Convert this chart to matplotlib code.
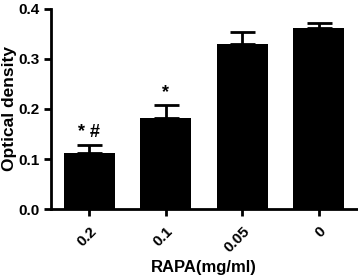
import matplotlib
matplotlib.use("Agg")
import matplotlib.pyplot as plt
import numpy as np

plt.rcParams['font.family'] = ['Liberation Sans', 'DejaVu Sans']
plt.rcParams['font.weight'] = 'bold'

labels = ['0.2', '0.1', '0.05', '0']
means = [0.112, 0.182, 0.330, 0.362]
errors = [0.016, 0.026, 0.024, 0.010]
marks = ['* #', '*', '', '']

fig = plt.figure(figsize=(3.58, 2.78), dpi=100)
ax = fig.add_axes([0.1425, 0.248, 0.855, 0.72])

x = np.arange(len(labels))
ax.bar(x, means, width=0.67, color='black', zorder=2)
ax.errorbar(x, means, yerr=[np.zeros(len(errors)), errors], fmt='none',
            ecolor='black', elinewidth=2, capsize=9, capthick=2, zorder=3)

for i in range(len(labels)):
    if marks[i]:
        ax.text(x[i], means[i] + errors[i] + 0.008, marks[i], ha='center',
                va='bottom', fontsize=13, fontweight='bold')

ax.set_xlim(-0.5, 3.5)
ax.set_ylim(0, 0.4)
ax.set_yticks([0.0, 0.1, 0.2, 0.3, 0.4])
ax.set_yticklabels(['0.0', '0.1', '0.2', '0.3', '0.4'])
ax.set_xticks(x)
ax.set_xticklabels(labels, rotation=45, ha='right', rotation_mode='anchor')
ax.tick_params(axis='both', width=2, length=5, labelsize=11)
ax.tick_params(axis='x', pad=6)
ax.spines['top'].set_visible(False)
ax.spines['right'].set_visible(False)
ax.spines['left'].set_linewidth(2)
ax.spines['bottom'].set_linewidth(2)
ax.set_ylabel('Optical density', fontsize=12.5, fontweight='bold')
ax.set_xlabel('RAPA(mg/ml)', fontsize=12, fontweight='bold')
ax.yaxis.set_label_coords(-0.112, 0.5)
ax.xaxis.set_label_coords(0.5, -0.255)

fig.savefig('out.png', dpi=100)
